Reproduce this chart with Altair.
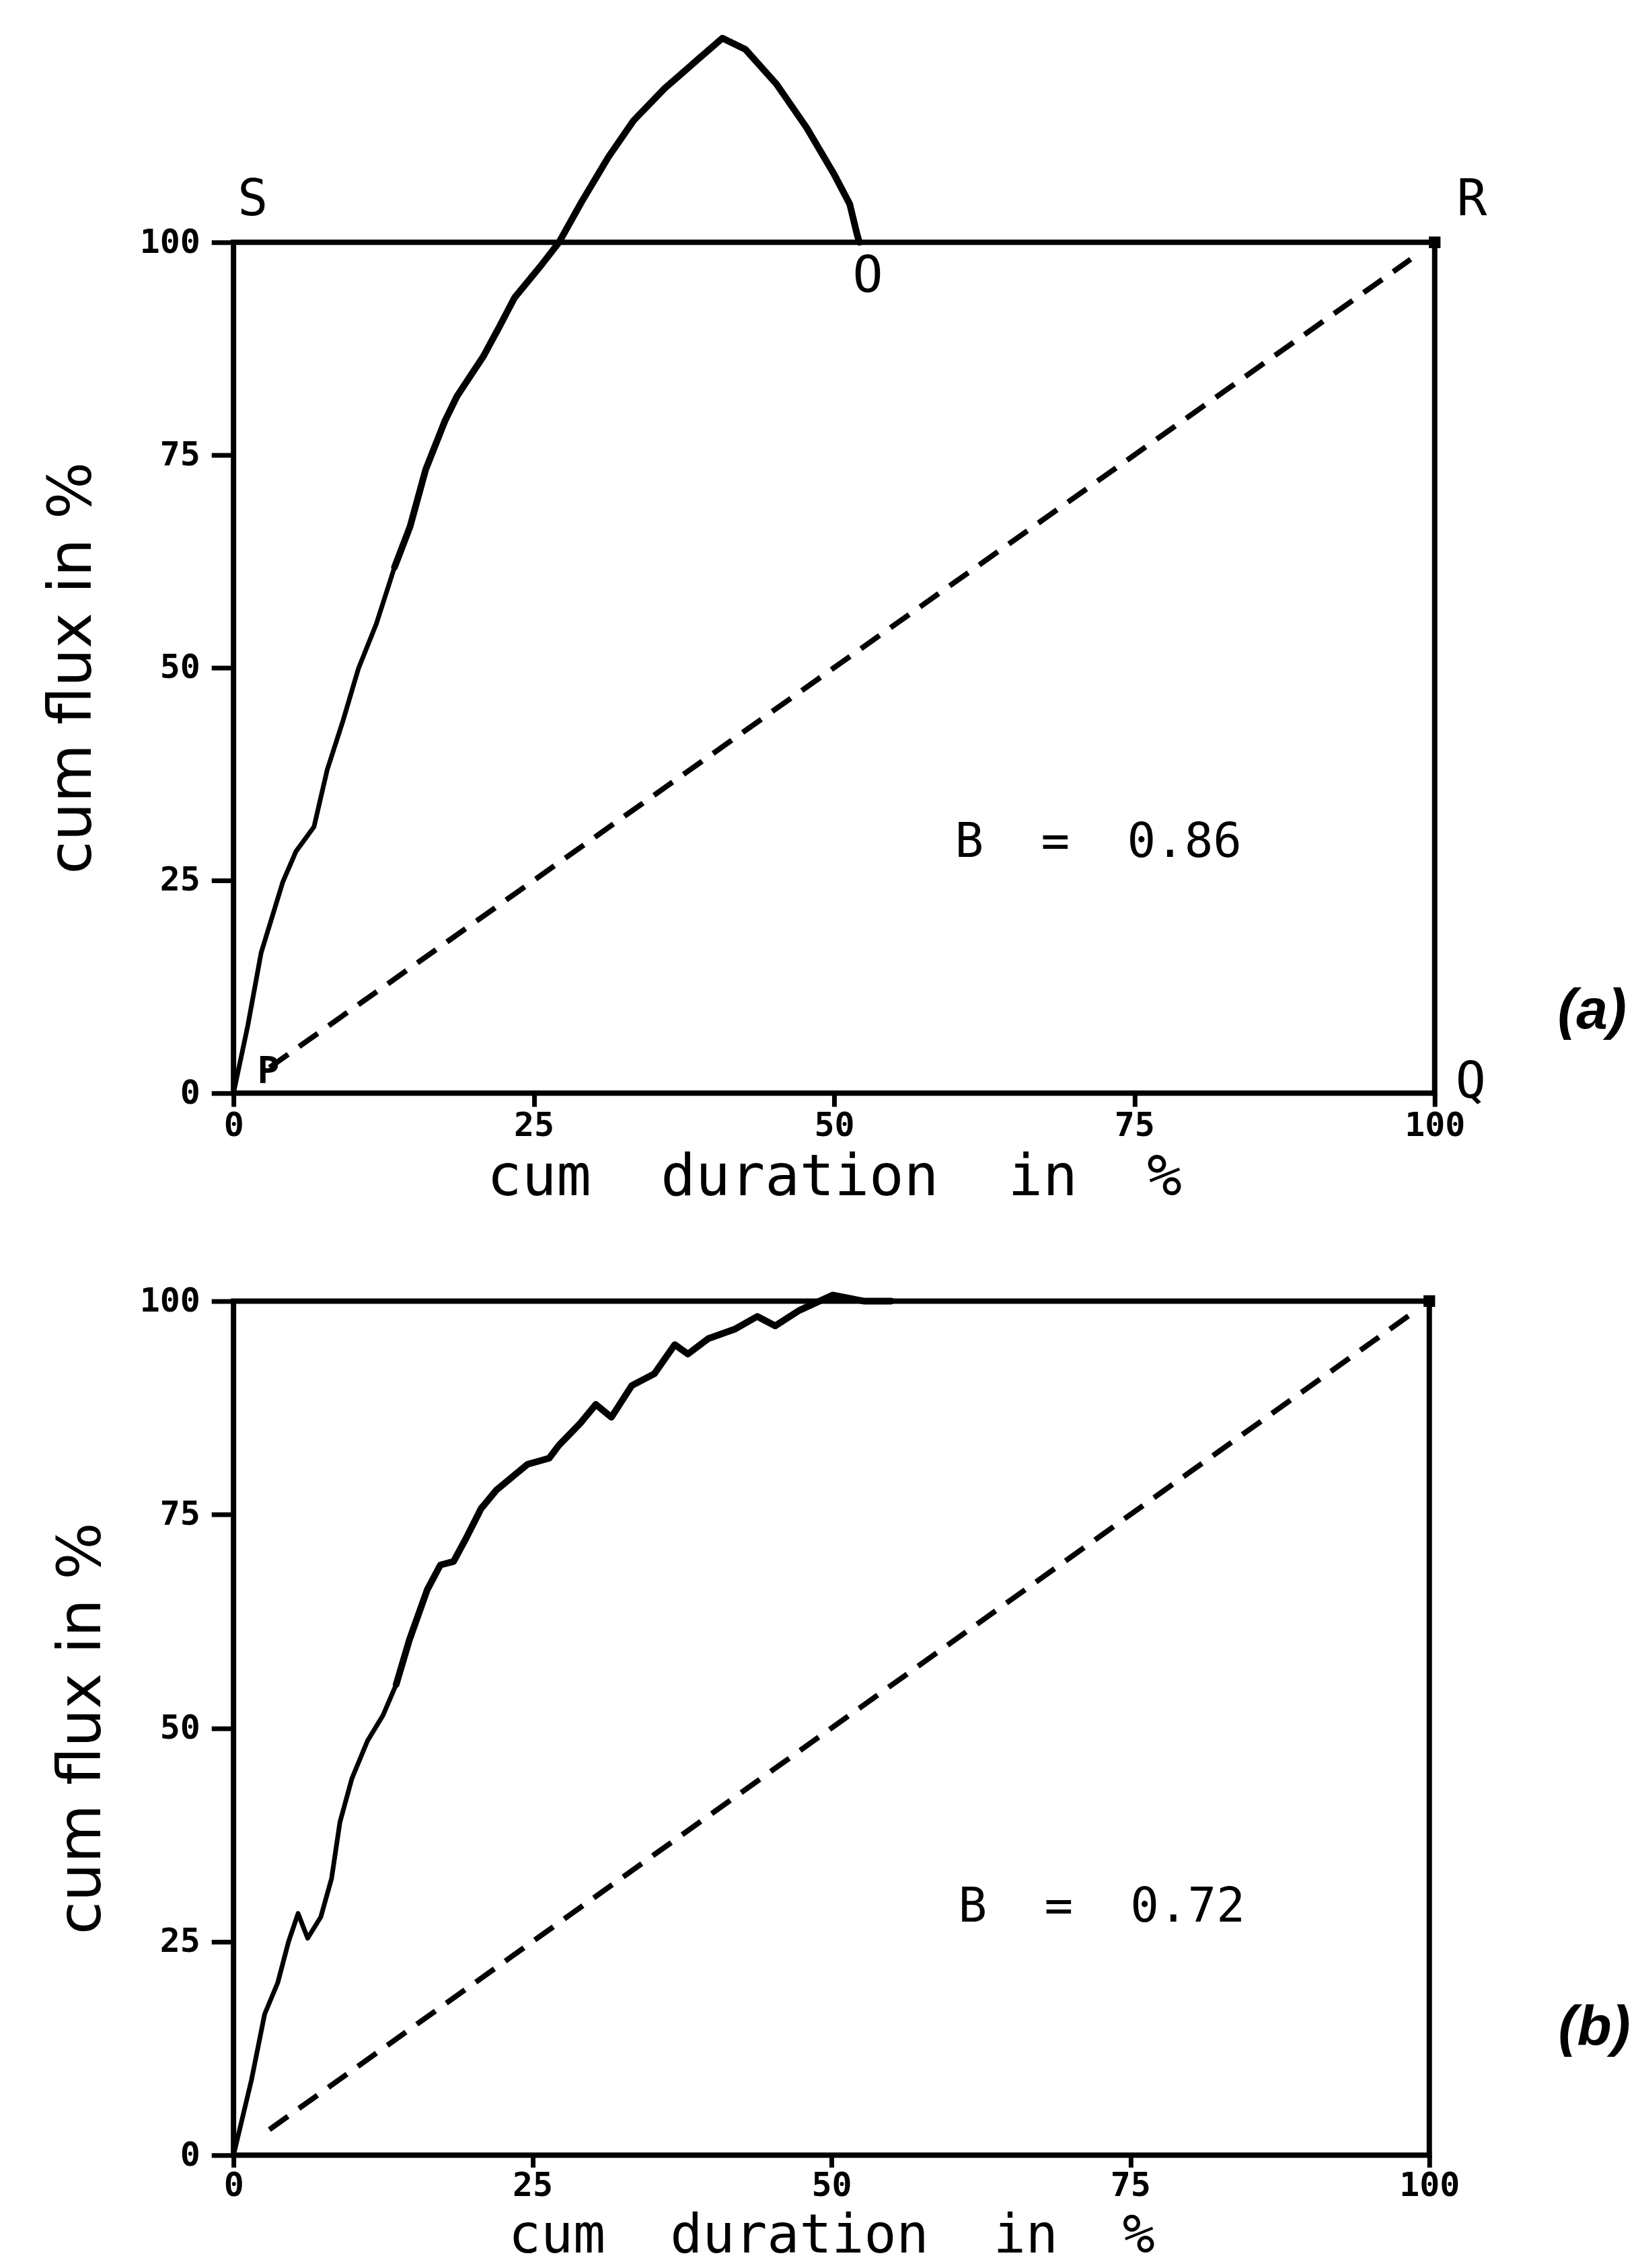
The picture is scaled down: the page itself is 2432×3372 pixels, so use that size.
import altair as alt
import pandas as pd

# ---------------- data ----------------
ticks = [0, 25, 50, 75, 100]

# panel (a): cumulative flux vs cumulative duration
a_dur = [0, 1.2, 2.3, 4.1, 5.2, 6.7, 7.8, 9.1, 10.4, 11.9, 13.4, 14.7, 16.0, 17.6,
         18.6, 20.8, 22.1, 23.4, 25.5, 27.1, 29.0, 31.2, 33.3, 35.9, 38.5, 40.7,
         42.6, 45.2, 47.7, 50.0, 51.3, 51.9, 52.1]
a_flux = [0, 8.0, 16.5, 24.8, 28.4, 31.3, 38.0, 43.7, 49.9, 55.2, 61.8, 66.6, 73.3, 79.0,
          81.9, 86.6, 90.0, 93.5, 97.1, 100.0, 104.8, 110.0, 114.3, 118.1, 121.3, 124.0,
          122.7, 118.6, 113.5, 108.0, 104.5, 101.0, 100.0]

# panel (b)
b_dur = [0, 1.5, 2.6, 3.7, 4.6, 5.4, 6.2, 7.3, 8.2, 8.9, 9.9, 11.2, 12.5, 13.6, 14.7,
         16.2, 17.3, 18.4, 19.4, 20.7, 22.0, 23.3, 24.6, 26.4, 27.2, 29.0, 30.3, 31.6,
         33.3, 35.2, 36.9, 38.0, 39.7, 41.9, 43.8, 45.3, 47.3, 50.1, 52.7, 55.0]
b_flux = [0, 8.8, 16.5, 20.2, 25.0, 28.3, 25.4, 27.9, 32.4, 39.0, 44.1, 48.5, 51.5, 55.1,
          60.3, 66.2, 69.1, 69.5, 72.1, 75.7, 77.9, 79.4, 80.9, 81.6, 83.1, 85.7, 87.9,
          86.4, 90.1, 91.5, 94.9, 93.8, 95.6, 96.7, 98.2, 97.1, 98.9, 100.7, 100.0, 100.0]

# equal-distribution diagonals (dashed)
a_diag = [3, 98]
b_diag = [3, 99]

NB = "\u00a0"
b_values_text = ["B" + NB * 2 + "=" + NB * 2 + "0.86", "B" + NB * 2 + "=" + NB * 2 + "0.72"]
b_text_x = [72.0, 72.6]
b_text_y = [29.4, 29.0]

corner_letters = ["S", "R", "O", "Q"]
corner_x = [1.6, 103.1, 52.8, 103.0]
corner_y = [105.0, 105.0, 96.0, 1.3]

p_letter = ["P"]
p_x = [2.9]
p_y = [2.5]

panel_names = ["(a)", "(b)"]
panel_name_x = [113.1, 113.8]
panel_name_y = [9.6, 14.8]

x_title = "cum" + NB * 2 + "duration" + NB * 2 + "in" + NB * 2 + "%"
y_title = "cum flux in %"

FONT = "DejaVu Sans Mono"
BLACK = "black"
LABEL_SIZE = 50


def x_axis(tick, lpad, tpad, tsize):
    return alt.Axis(values=ticks, format="d", grid=False, domain=False,
                    tickSize=tick, tickWidth=7, tickColor=BLACK,
                    labelFont=FONT, labelFontSize=LABEL_SIZE, labelFontWeight="bold",
                    labelColor=BLACK, labelPadding=lpad, labelFlush=False,
                    title=x_title, titleFont=FONT, titleFontSize=tsize,
                    titleFontWeight="normal", titleColor=BLACK, titlePadding=tpad)


def y_axis(tpad):
    return alt.Axis(values=ticks, format="d", grid=False, domain=False,
                    tickSize=33, tickWidth=7, tickColor=BLACK,
                    labelFont=FONT, labelFontSize=LABEL_SIZE, labelFontWeight="bold",
                    labelColor=BLACK, labelPadding=17, labelFlush=False,
                    title=y_title, titleFont="DejaVu Sans", titleFontSize=90,
                    titleFontWeight="normal", titleColor=BLACK, titlePadding=tpad)


sx = alt.Scale(domain=[0, 100], nice=False, zero=False)
sy = alt.Scale(domain=[0, 100], nice=False, zero=False)


def panel(dur, flux, diag, idx, w, h, xa, ya, letters=True):
    curve_df = pd.DataFrame({"d": dur, "f": flux, "o": list(range(len(dur)))})
    diag_df = pd.DataFrame({"d": diag, "f": diag})
    corner_df = pd.DataFrame({"d": [100], "f": [100]})
    btxt = pd.DataFrame({"d": [b_text_x[idx]], "f": [b_text_y[idx]], "t": [b_values_text[idx]]})
    ptxt = pd.DataFrame({"d": [panel_name_x[idx]], "f": [panel_name_y[idx]], "t": [panel_names[idx]]})

    curve_thin = alt.Chart(curve_df).mark_line(
        color=BLACK, strokeWidth=7, strokeJoin="round", strokeCap="round"
    ).encode(
        x=alt.X("d:Q", scale=sx, axis=xa),
        y=alt.Y("f:Q", scale=sy, axis=ya),
        order="o:Q",
    )

    curve_thick = alt.Chart(curve_df).transform_filter(
        "datum.d >= 13"
    ).mark_line(
        color=BLACK, strokeWidth=10, strokeJoin="round", strokeCap="round"
    ).encode(x="d:Q", y="f:Q", order="o:Q")

    dashed = alt.Chart(diag_df).mark_line(
        color=BLACK, strokeWidth=8, strokeDash=[34, 20]
    ).encode(x="d:Q", y="f:Q")

    dot = alt.Chart(corner_df).mark_square(color=BLACK, size=300, opacity=1).encode(
        x="d:Q", y="f:Q")

    btext = alt.Chart(btxt).mark_text(
        font=FONT, fontSize=71, color=BLACK, align="center", baseline="middle"
    ).encode(x="d:Q", y="f:Q", text="t:N")

    pname = alt.Chart(ptxt).mark_text(
        font="Liberation Sans", fontSize=84, fontWeight="bold", fontStyle="italic",
        color=BLACK, align="center", baseline="middle"
    ).encode(x="d:Q", y="f:Q", text="t:N")

    layers = [curve_thin, dashed, curve_thick, dot, btext, pname]

    if letters:
        cdf = pd.DataFrame({"d": corner_x, "f": corner_y, "t": corner_letters})
        cl = alt.Chart(cdf).mark_text(
            font=FONT, fontSize=75, color=BLACK, align="center", baseline="middle"
        ).encode(x="d:Q", y="f:Q", text="t:N")
        pdf = pd.DataFrame({"d": p_x, "f": p_y, "t": p_letter})
        pl = alt.Chart(pdf).mark_text(
            font=FONT, fontSize=55, fontWeight="bold", color=BLACK,
            align="center", baseline="middle"
        ).encode(x="d:Q", y="f:Q", text="t:N")
        layers += [cl, pl]

    return alt.layer(*layers).properties(width=w, height=h)


top = panel(a_dur, a_flux, a_diag, 0, 1790, 1268,
            x_axis(20, 4, 10, 86), y_axis(54), letters=True)
bottom = panel(b_dur, b_flux, b_diag, 1, 1782, 1273,
               x_axis(18, 2, 12, 80), y_axis(40), letters=False)

chart = alt.vconcat(top, bottom, spacing=108).properties(
    padding={"left": 58, "top": 43, "right": 4, "bottom": 0},
    background="white",
).configure_view(
    stroke=BLACK, strokeWidth=8
)

chart.save("out.html", embed_options={"renderer": "svg", "actions": False})
